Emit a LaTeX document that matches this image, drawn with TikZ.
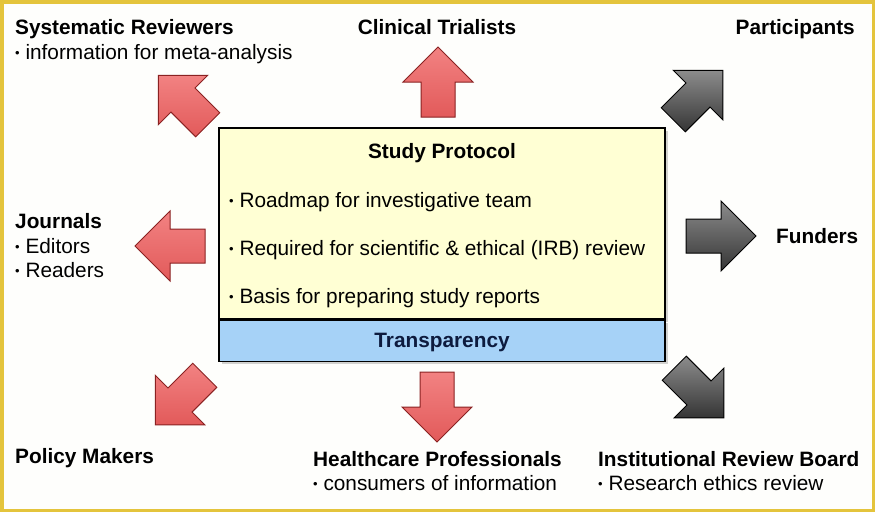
\documentclass[tikz,border=0pt]{standalone}
\usepackage{fontspec}
\setmainfont{Liberation Sans}
\usetikzlibrary{positioning,shadows}
\definecolor{Frame}{HTML}{E4C43C}
\definecolor{Paper}{HTML}{FEFEFC}
\definecolor{Cream}{HTML}{FFFFD4}
\definecolor{Sky}{HTML}{A6D2F7}
\definecolor{Navy}{HTML}{0D1B3E}
\definecolor{RedLight}{HTML}{F28282}
\definecolor{RedDark}{HTML}{E25A5A}
\definecolor{RedLine}{HTML}{8A2222}
\definecolor{GreyLight}{HTML}{8C8C8C}
\definecolor{GreyDark}{HTML}{353535}
\newcommand{\Bul}{\raisebox{1.4pt}{\fontsize{13}{13}\selectfont\textbullet}\ }

\tikzset{
  head/.style={font=\fontsize{20.8}{24}\selectfont\bfseries,inner sep=0pt},
  body/.style={font=\fontsize{20.8}{24}\selectfont,inner sep=0pt},
  panel/.style={draw=black,line width=1.2pt,minimum width=446,inner sep=0pt},
  redarrow/.style={draw=RedLine,line width=1pt,top color=RedLight,bottom color=RedDark},
  greyarrow/.style={draw=black,line width=1pt,top color=GreyLight,bottom color=GreyDark},
}

\begin{document}
\begin{tikzpicture}[x=1pt,y=-1pt]
\useasboundingbox (0,0) rectangle (875,512);
\draw[Frame,line width=3.5,fill=Paper] (1.75,1.75) rectangle (873.25,510.25);

% block arrows
\foreach \px/\py/\ang in {438/82/90,183/100/135,170/246/180,180/400/225,437/407/270} {
  \begin{scope}[shift={(\px,\py)},rotate=\ang]
    \shade[redarrow] (-35,-17) -- (0,-17) -- (0,-35) -- (35,0) -- (0,35) -- (0,17) -- (-35,17) -- cycle;
  \end{scope}
}
\foreach \px/\py/\ang in {698/95/45,721/236/0,699/393/-45} {
  \begin{scope}[shift={(\px,\py)},rotate=\ang]
    \shade[greyarrow] (-35,-17) -- (0,-17) -- (0,-35) -- (35,0) -- (0,35) -- (0,17) -- (-35,17) -- cycle;
  \end{scope}
}

% protocol box
\node[panel,fill=Cream,minimum height=191,
  drop shadow={opacity=0.35,shadow xshift=3pt,shadow yshift=-3pt}] (proto) at (442,223.5) {};
\node[panel,fill=Sky,minimum height=41,anchor=north,
  drop shadow={opacity=0.35,shadow xshift=3pt,shadow yshift=-3pt}] (transp) at (proto.south) {};
\node[head,anchor=base] (protoTitle) at (442,158) {Study Protocol};
\node[body,anchor=base west] (protoA) at (229,207) {\Bul Roadmap for investigative team};
\node[body,anchor=base west] (protoB) at (229,255) {\Bul Required for scientific \& ethical (IRB) review};
\node[body,anchor=base west] (protoC) at (229,303) {\Bul Basis for preparing study reports};
\node[head,text=Navy,anchor=base] (transpText) at (442,347) {Transparency};

% audiences
\node[head,anchor=base west] (sysHead) at (15,34) {Systematic Reviewers};
\node[body,anchor=base west] (sysBody) at (15,59) {\Bul information for meta-analysis};
\node[head,anchor=base] (trialHead) at (437,34) {Clinical Trialists};
\node[head,anchor=base east] (partHead) at (855,34) {Participants};
\node[head,anchor=base west] (jourHead) at (15,228) {Journals};
\node[body,anchor=base west] (jourEd) at (15,253) {\Bul Editors};
\node[body,anchor=base west] (jourRd) at (15,277) {\Bul Readers};
\node[head,anchor=base west] (fundHead) at (776,243) {Funders};
\node[head,anchor=base west] (policyHead) at (15,463) {Policy Makers};
\node[head,anchor=base west] (careHead) at (313,466) {Healthcare Professionals};
\node[body,anchor=base west] (careBody) at (313,490) {\Bul consumers of information};
\node[head,anchor=base west] (irbHead) at (598,466) {Institutional Review Board};
\node[body,anchor=base west] (irbBody) at (598,490) {\Bul Research ethics review};
\end{tikzpicture}
\end{document}
